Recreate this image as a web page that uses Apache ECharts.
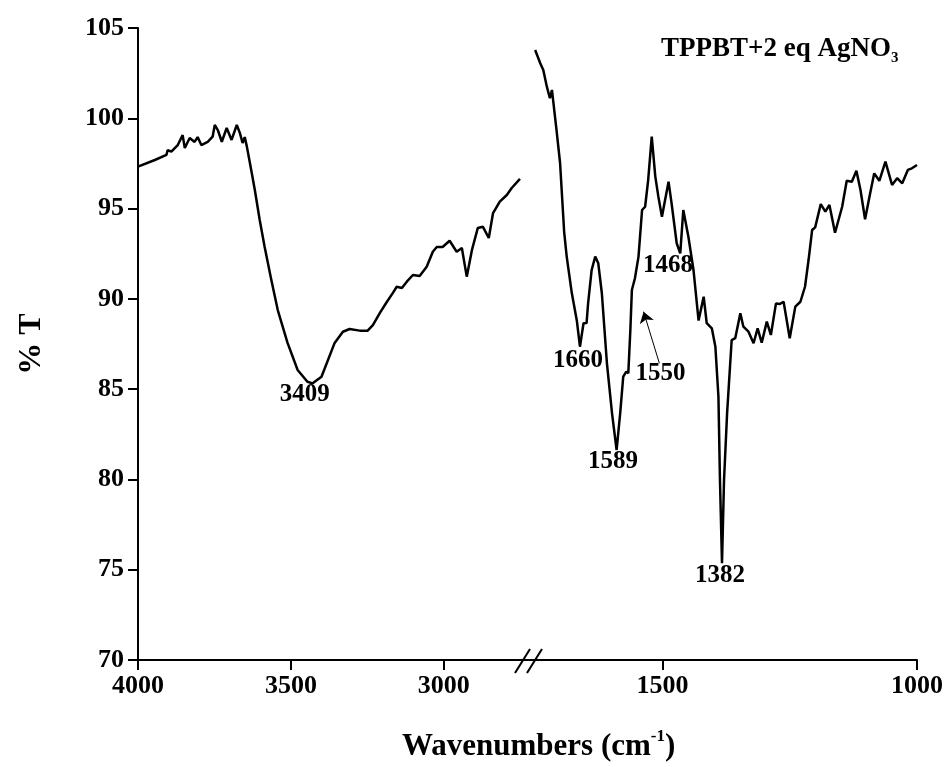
<!DOCTYPE html>
<html>
<head>
<meta charset="utf-8">
<title>TPPBT+2 eq AgNO3 IR spectrum</title>
<script src="https://cdn.jsdelivr.net/npm/echarts@6/dist/echarts.min.js"></script>
<style>
  html, body { margin: 0; padding: 0; background: #fff; }
  #chart { width: 947px; height: 767px; }
</style>
</head>
<body>
<div id="chart"></div>
<script>
// high wavenumber part (left of the axis break)
const leftWavenumbers = [4000, 3945, 3907, 3903, 3891, 3870, 3854, 3847, 3831, 3815, 3805, 3793, 3772, 3756, 3749, 3739, 3726, 3710, 3694, 3677, 3667, 3658, 3651, 3644, 3628, 3618, 3602, 3586, 3564, 3543, 3511, 3478, 3446, 3429, 3400, 3357, 3330, 3308, 3275, 3249, 3232, 3209, 3186, 3167, 3154, 3137, 3121, 3101, 3079, 3056, 3036, 3023, 3004, 2981, 2958, 2941, 2925, 2908, 2889, 2872, 2853, 2839, 2817, 2794, 2778, 2751];
const leftTransmittance = [97.32, 97.69, 97.97, 98.24, 98.15, 98.52, 99.07, 98.35, 98.91, 98.69, 98.96, 98.52, 98.70, 98.98, 99.63, 99.35, 98.70, 99.46, 98.80, 99.63, 99.19, 98.63, 98.96, 98.43, 96.97, 96.03, 94.37, 92.89, 91.04, 89.38, 87.56, 86.06, 85.41, 85.32, 85.69, 87.56, 88.18, 88.33, 88.24, 88.24, 88.55, 89.22, 89.84, 90.32, 90.67, 90.60, 90.95, 91.32, 91.27, 91.78, 92.61, 92.87, 92.87, 93.22, 92.61, 92.82, 91.23, 92.71, 93.92, 93.99, 93.37, 94.75, 95.38, 95.75, 96.14, 96.64];

// fingerprint part (right of the axis break)
const rightWavenumbers = [1750, 1740, 1734, 1727, 1721, 1717, 1708, 1701, 1693, 1688, 1678, 1668, 1662, 1655, 1649, 1646, 1639, 1632, 1626, 1619, 1609, 1599, 1590, 1583, 1577, 1571, 1567, 1563, 1560, 1554, 1547, 1540, 1534, 1528, 1521, 1514, 1508, 1501, 1488, 1482, 1472, 1465, 1459, 1449, 1439, 1429, 1419, 1413, 1403, 1396, 1390, 1387, 1383, 1379, 1373, 1364, 1357, 1347, 1341, 1331, 1321, 1313, 1305, 1295, 1287, 1277, 1270, 1262, 1250, 1239, 1229, 1220, 1213, 1206, 1200, 1189, 1180, 1172, 1161, 1147, 1138, 1128, 1119, 1111, 1102, 1092, 1084, 1074, 1062, 1049, 1039, 1029, 1018, 1010, 1000];
const rightTransmittance = [103.78, 103.05, 102.67, 101.75, 101.11, 101.57, 99.35, 97.51, 93.7, 92.34, 90.32, 88.77, 87.35, 88.65, 88.66, 89.75, 91.60, 92.34, 91.97, 90.31, 86.43, 83.66, 81.63, 83.66, 85.69, 85.97, 85.88, 88.28, 90.49, 91.14, 92.34, 94.92, 95.10, 96.58, 98.98, 96.77, 95.66, 94.55, 96.49, 95.29, 93.08, 92.52, 94.92, 93.44, 91.60, 88.8, 90.12, 88.65, 88.37, 87.35, 84.58, 79.97, 75.36, 79.97, 83.66, 87.72, 87.82, 89.20, 88.46, 88.18, 87.54, 88.37, 87.57, 88.74, 88.00, 89.75, 89.71, 89.84, 87.82, 89.57, 89.84, 90.67, 92.15, 93.81, 93.96, 95.25, 94.83, 95.20, 93.66, 95.10, 96.54, 96.49, 97.10, 96.03, 94.41, 95.85, 96.95, 96.54, 97.60, 96.31, 96.68, 96.40, 97.14, 97.23, 97.41];

const leftTicks = [4000, 3500, 3000];
const rightTicks = [1500, 1000];

// peak annotations: text, anchor [wavenumber, %T]
const leftPeaks = [['3409', 3455, 84.7]];
const rightPeaks = [
  ['1660', 1666, 86.56],
  ['1589', 1597, 81.0],
  ['1550', 1504, 85.84],
  ['1468', 1489, 91.82],
  ['1382', 1387, 74.65]
];
// arrow pointing at the 1550 shoulder
const arrow1550 = [[1506, 86.43], [1537, 89.29]];

const chart = echarts.init(document.getElementById('chart'));

const font = 'Liberation Serif';
const axisLine = { lineStyle: { color: '#000', width: 2 } };
const axisTick = { length: 10, lineStyle: { color: '#000', width: 2 } };
const tickLabel = { color: '#000', fontFamily: font, fontWeight: 'bold', fontSize: 26, formatter: v => String(v) };
const peakLabel = {
  show: true,
  position: 'inside',
  formatter: p => p.data[2],
  color: '#000', opacity: 1, textBorderWidth: 0,
  fontFamily: font, fontWeight: 'bold', fontSize: 25
};

function pairs(xs, ys) {
  return xs.map((x, i) => [x, ys[i]]);
}

const option = {
  animation: false,
  backgroundColor: '#fff',
  title: [
    {
      text: '{m|TPPBT+2 eq AgNO}{s|3}',
      left: 656,
      top: 27,
      textStyle: {
        rich: {
          m: { fontFamily: font, fontWeight: 'bold', fontSize: 27, color: '#000', lineHeight: 32 },
          s: { fontFamily: font, fontWeight: 'bold', fontSize: 15, color: '#000', verticalAlign: 'bottom', lineHeight: 34 }
        }
      }
    },
    {
      text: '{m|Wavenumbers (cm}{p|-1}{m|)}',
      left: 397,
      top: 723,
      textStyle: {
        rich: {
          m: { fontFamily: font, fontWeight: 'bold', fontSize: 31, color: '#000', lineHeight: 38 },
          p: { fontFamily: font, fontWeight: 'bold', fontSize: 17, color: '#000', verticalAlign: 'top', lineHeight: 38 }
        }
      }
    }
  ],
  grid: [
    { left: 138, top: 28, width: 389, height: 632 },
    { left: 527, top: 28, width: 390, height: 632 }
  ],
  xAxis: [
    {
      gridIndex: 0,
      type: 'value',
      inverse: true,
      min: 2728,
      max: 4000,
      axisLine: axisLine,
      axisTick: Object.assign({ customValues: leftTicks }, axisTick),
      axisLabel: Object.assign({ customValues: leftTicks, margin: 13 }, tickLabel),
      splitLine: { show: false }
    },
    {
      gridIndex: 1,
      type: 'value',
      inverse: true,
      min: 1000,
      max: 1766,
      axisLine: axisLine,
      axisTick: Object.assign({ customValues: rightTicks }, axisTick),
      axisLabel: Object.assign({ customValues: rightTicks, margin: 13 }, tickLabel),
      splitLine: { show: false }
    }
  ],
  yAxis: [
    {
      gridIndex: 0,
      type: 'value',
      min: 70,
      max: 105,
      interval: 5,
      name: '% T',
      nameLocation: 'middle',
      nameRotate: 90,
      nameGap: 90,
      nameTextStyle: { color: '#000', fontFamily: font, fontWeight: 'bold', fontSize: 32 },
      axisLine: axisLine,
      axisTick: axisTick,
      axisLabel: Object.assign({ margin: 14 }, tickLabel),
      splitLine: { show: false }
    },
    {
      gridIndex: 1,
      type: 'value',
      min: 70,
      max: 105,
      show: false,
      splitLine: { show: false }
    }
  ],
  series: [
    {
      type: 'line',
      xAxisIndex: 0,
      yAxisIndex: 0,
      data: pairs(leftWavenumbers, leftTransmittance),
      showSymbol: false,
      symbol: 'none',
      lineStyle: { color: '#000', width: 2.5 }
    },
    {
      type: 'line',
      xAxisIndex: 1,
      yAxisIndex: 1,
      data: pairs(rightWavenumbers, rightTransmittance),
      showSymbol: false,
      symbol: 'none',
      lineStyle: { color: '#000', width: 2.5 }
    },
    {
      type: 'scatter',
      xAxisIndex: 0,
      yAxisIndex: 0,
      symbolSize: 0,
      itemStyle: { color: '#000' },
      data: leftPeaks.map(p => [p[1], p[2], p[0]]),
      label: peakLabel,
      z: 5
    },
    {
      type: 'scatter',
      xAxisIndex: 1,
      yAxisIndex: 1,
      symbolSize: 0,
      itemStyle: { color: '#000' },
      data: rightPeaks.map(p => [p[1], p[2], p[0]]),
      label: peakLabel,
      z: 5
    },
    {
      type: 'lines',
      coordinateSystem: 'cartesian2d',
      xAxisIndex: 1,
      yAxisIndex: 1,
      symbol: ['none', 'arrow'],
      symbolSize: 11,
      lineStyle: { color: '#000', width: 1, opacity: 1 },
      data: [{ coords: arrow1550 }]
    }
  ],
  graphic: [
    // axis break marks
    { type: 'line', shape: { x1: 515, y1: 673, x2: 530, y2: 649 }, style: { stroke: '#000', lineWidth: 2 } },
    { type: 'line', shape: { x1: 527, y1: 673, x2: 542, y2: 649 }, style: { stroke: '#000', lineWidth: 2 } }
  ]
};

chart.setOption(option);
</script>
</body>
</html>
